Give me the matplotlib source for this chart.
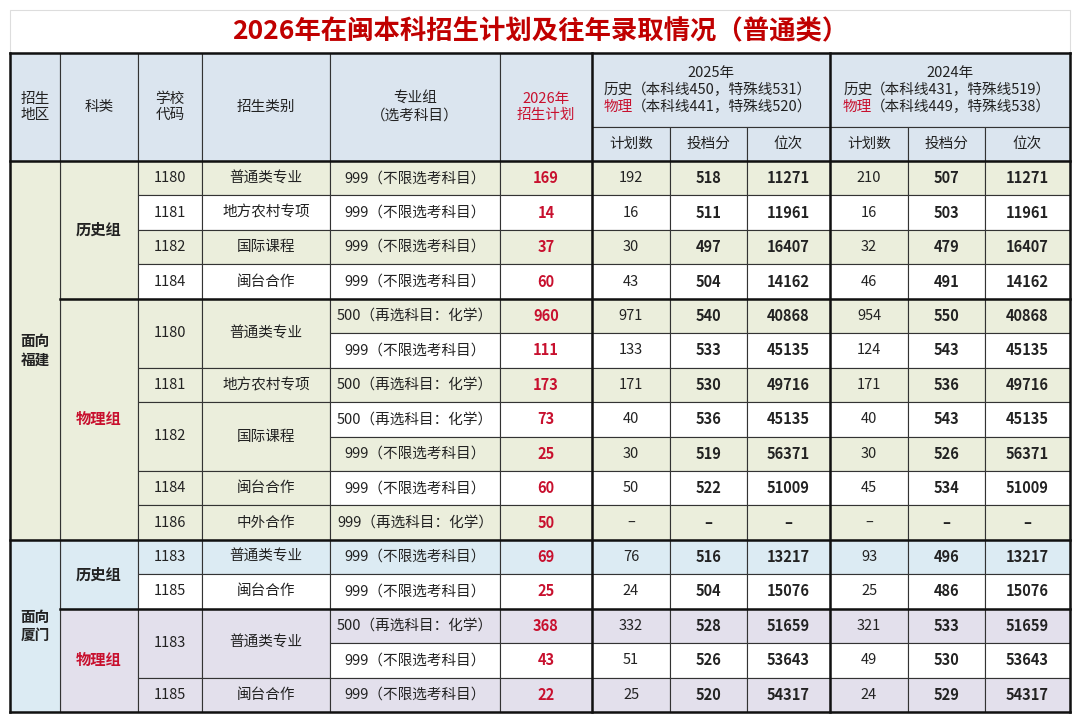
import matplotlib
matplotlib.use("Agg")
import matplotlib.pyplot as plt
from matplotlib.patches import Rectangle

plt.rcParams['font.family'] = ['Noto Sans CJK SC', 'DejaVu Sans']

# ---- data ----
regions = [("面向\n福建", 0, 11), ("面向\n厦门", 11, 5)]
subjects = [("历史组", 0, 4, "hist"), ("物理组", 4, 7, "phys"),
            ("历史组", 11, 2, "hist"), ("物理组", 13, 3, "phys")]
code_spans = [("1180", "普通类专业", 0, 1), ("1181", "地方农村专项", 1, 1),
              ("1182", "国际课程", 2, 1), ("1184", "闽台合作", 3, 1),
              ("1180", "普通类专业", 4, 2), ("1181", "地方农村专项", 6, 1),
              ("1182", "国际课程", 7, 2), ("1184", "闽台合作", 9, 1),
              ("1186", "中外合作", 10, 1), ("1183", "普通类专业", 11, 1),
              ("1185", "闽台合作", 12, 1), ("1183", "普通类专业", 13, 2),
              ("1185", "闽台合作", 15, 1)]
A = "999（不限选考科目）"
B = "500（再选科目：化学）"
C = "999（再选科目：化学）"
groups_sel = [A, A, A, A, B, A, B, B, A, A, C, A, A, B, A, A]
plan_2026 = [169, 14, 37, 60, 960, 111, 173, 73, 25, 60, 50, 69, 25, 368, 43, 22]
plan_2025 = [192, 16, 30, 43, 971, 133, 171, 40, 30, 50, None, 76, 24, 332, 51, 25]
score_2025 = [518, 511, 497, 504, 540, 533, 530, 536, 519, 522, None, 516, 504, 528, 526, 520]
rank_2025 = [11271, 11961, 16407, 14162, 40868, 45135, 49716, 45135, 56371, 51009, None,
             13217, 15076, 51659, 53643, 54317]
plan_2024 = [210, 16, 32, 46, 954, 124, 171, 40, 30, 45, None, 93, 25, 321, 49, 24]
score_2024 = [507, 503, 479, 491, 550, 543, 536, 543, 526, 534, None, 496, 486, 533, 530, 529]
rank_2024 = [11271, 11961, 16407, 14162, 40868, 45135, 49716, 45135, 56371, 51009, None,
             13217, 15076, 51659, 53643, 54317]

# ---- layout ----
xs = [10, 60, 138, 202, 330, 500, 592, 670, 747, 830, 908, 985, 1070]
y_head0, y_head1, y_body = 53, 127, 161
y_end = 712
n = len(plan_2026)
rh = (y_end - y_body) / n
def ry(i):
    return y_body + i * rh

GREEN = "#ebeedc"
BLUE_H = "#dbe5ef"
BLUE = "#dcebf3"
LAV = "#e3e0ec"
RED = "#c8102e"
DARK = "#222222"

fig = plt.figure(figsize=(10.8, 7.21), dpi=100)
ax = fig.add_axes([0, 0, 1, 1])
ax.set_xlim(0, 1080)
ax.set_ylim(721, 0)
ax.axis("off")

def cell(x0, x1, y0, y1, fc, txt="", color=DARK, weight="normal", size=10.5):
    ax.add_patch(Rectangle((x0, y0), x1 - x0, y1 - y0, fc=fc, ec="#333333", lw=0.8))
    if txt != "":
        ax.text((x0 + x1) / 2, (y0 + y1) / 2, txt, ha="center", va="center",
                color=color, fontweight=weight, fontsize=size, linespacing=1.2)

# title
ax.add_patch(Rectangle((10, 10), 1060, 43, fc="white", ec="#dddddd", lw=0.8))
ax.text(540, 32, "2026年在闽本科招生计划及往年录取情况（普通类）", ha="center", va="center",
        color="#c00000", fontsize=19, fontweight="bold")

# header
heads = ["招生\n地区", "科类", "学校\n代码", "招生类别", "专业组\n（选考科目）"]
for j, h in enumerate(heads):
    cell(xs[j], xs[j + 1], y_head0, y_body, BLUE_H, h)
cell(xs[5], xs[6], y_head0, y_body, BLUE_H, "2026年\n招生计划", color=RED)
for k, (yr, l1, l2) in enumerate([("2025年", "（本科线450，特殊线531）", "（本科线441，特殊线520）"),
                                  ("2024年", "（本科线431，特殊线519）", "（本科线449，特殊线538）")]):
    x0, x1 = xs[6 + 3 * k], xs[9 + 3 * k]
    cell(x0, x1, y_head0, y_head1, BLUE_H)
    xc = (x0 + x1) / 2
    ax.text(xc, y_head0 + 20, yr, ha="center", va="center", fontsize=10.5, color=DARK)
    ax.text(xc - 107, y_head0 + 37, "历史", ha="left", va="center", fontsize=10.5, color=DARK)
    ax.text(xc - 79, y_head0 + 37, l1, ha="left", va="center", fontsize=10.5, color=DARK)
    ax.text(xc - 107, y_head0 + 54, "物理", ha="left", va="center", fontsize=10.5, color=RED)
    ax.text(xc - 79, y_head0 + 54, l2, ha="left", va="center", fontsize=10.5, color=DARK)
    for m, s in enumerate(["计划数", "投档分", "位次"]):
        cell(xs[6 + 3 * k + m], xs[7 + 3 * k + m], y_head1, y_body, BLUE_H, s)

# body
row_fc, merged_fc = [None] * n, [None] * n
for name, s, cnt, kind in subjects:
    if s < 11:
        col = GREEN
    else:
        col = BLUE if kind == "hist" else LAV
    for i in range(s, s + cnt):
        row_fc[i] = col if (i - s) % 2 == 0 else "white"
        merged_fc[i] = col if kind == "phys" else row_fc[i]
    cell(xs[1], xs[2], ry(s), ry(s + cnt), col, name,
         color=RED if kind == "phys" else DARK, weight="bold", size=11)
for name, s, cnt in regions:
    cell(xs[0], xs[1], ry(s), ry(s + cnt), GREEN if s == 0 else BLUE, name, weight="bold")
for code, typ, s, cnt in code_spans:
    fc = merged_fc[s]
    cell(xs[2], xs[3], ry(s), ry(s + cnt), fc, code)
    cell(xs[3], xs[4], ry(s), ry(s + cnt), fc, typ)

def fmt(v):
    return "–" if v is None else str(v)

for i in range(n):
    y0, y1 = ry(i), ry(i + 1)
    fc = row_fc[i]
    cell(xs[4], xs[5], y0, y1, fc, groups_sel[i])
    cell(xs[5], xs[6], y0, y1, fc, str(plan_2026[i]), color=RED, weight="bold")
    vals = [plan_2025[i], score_2025[i], rank_2025[i], plan_2024[i], score_2024[i], rank_2024[i]]
    for m, v in enumerate(vals):
        cell(xs[6 + m], xs[7 + m], y0, y1, fc, fmt(v),
             weight="normal" if m % 3 == 0 else "bold")

# thick separators
for yy in [y_head0, y_body, ry(11), y_end]:
    ax.plot([xs[0], xs[-1]], [yy, yy], color="#111111", lw=1.8)
for yy in [ry(4), ry(13)]:
    ax.plot([xs[1], xs[-1]], [yy, yy], color="#111111", lw=1.8)
for xx in [xs[0], xs[6], xs[9], xs[-1]]:
    ax.plot([xx, xx], [y_head0, y_end], color="#111111", lw=1.8)

fig.savefig("out.png", dpi=100)
